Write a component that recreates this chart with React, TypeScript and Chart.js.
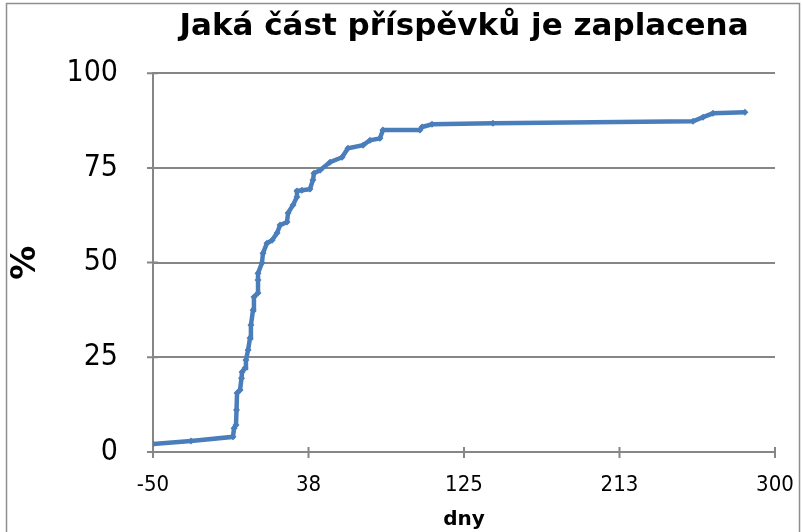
import React, { useEffect, useRef } from "react";
import { Chart, registerables } from "chart.js";

Chart.register(...registerables);

const titleText = "Jaká část příspěvků je zaplacena";
const xTitle = "dny";
const yTitle = "%";

// days (x) and paid share in % (y)
const days = [
  -50, -28.6, -5.0, -4.4, -3.3, -3.0, -2.7, -1.0, -0.2, 0.1, 1.8, 2.3, 3.5, 4.6,
  5.1, 6.3, 6.8, 9.1, 9.1, 9.1, 11.3, 11.9, 14.1, 17.0, 19.8, 21.5, 25.4, 26.0,
  28.8, 31.0, 31.0, 33.8, 38.3, 40.0, 40.6, 44.0, 49.6, 56.4, 59.7, 68.2, 72.1,
  77.7, 79.4, 100.2, 101.4, 107.0, 141.3, 253.9, 259.5, 265.1, 283.1,
];
const paid = [
  2.1, 2.9, 4.0, 6.3, 7.1, 11.1, 15.6, 16.4, 19.5, 21.1, 22.2, 24.3, 26.9, 30.1,
  33.5, 37.5, 40.9, 42.0, 45.4, 47.2, 49.9, 52.5, 55.1, 55.9, 57.8, 59.9, 60.7,
  63.1, 65.2, 67.3, 68.9, 69.1, 69.4, 71.8, 73.6, 74.4, 76.5, 77.8, 80.2, 81.0,
  82.3, 82.8, 85.0, 85.0, 85.8, 86.5, 86.8, 87.3, 88.4, 89.4, 89.7,
];

const xTicks = [-50, 37.5, 125, 212.5, 300];
const yTicks = [0, 25, 50, 75, 100];

const FONT_C = "'DejaVu Sans Condensed', 'DejaVu Sans', sans-serif";
const FONT = "'DejaVu Sans', sans-serif";
const GRID = "#868686";
const LINE = "#4A7EBB";

const decorPlugin = {
  id: "decor",
  beforeDraw(chart: any) {
    const ctx = chart.ctx;
    ctx.save();
    ctx.strokeStyle = "#8e8e8e";
    ctx.lineWidth = 1.5;
    ctx.strokeRect(6.5, 3.5, 793, 600);
    ctx.restore();
  },
  beforeDatasetsDraw(chart: any) {
    const ctx = chart.ctx;
    const xs = chart.scales.x;
    const ys = chart.scales.y;
    const area = chart.chartArea;
    ctx.save();
    ctx.strokeStyle = GRID;
    ctx.lineWidth = 2;
    ctx.beginPath();
    yTicks.forEach((v) => {
      const y = ys.getPixelForValue(v);
      ctx.moveTo(area.left - 6, y);
      ctx.lineTo(area.left + 5, y);
    });
    xTicks.forEach((v) => {
      const x = xs.getPixelForValue(v);
      ctx.moveTo(x, area.bottom - 5);
      ctx.lineTo(x, area.bottom + 6);
    });
    ctx.stroke();
    ctx.restore();
  },
};

export default function App() {
  const ref = useRef<HTMLCanvasElement | null>(null);
  useEffect(() => {
    if (!ref.current) return;
    const chart = new Chart(ref.current, {
      type: "scatter",
      data: {
        datasets: [
          {
            data: days.map((d, i) => ({ x: d, y: paid[i] })),
            showLine: true,
            borderColor: LINE,
            backgroundColor: LINE,
            borderWidth: 4.5,
            pointStyle: "rectRot",
            pointRadius: 3.5,
            pointBorderWidth: 0,
            tension: 0,
          },
        ],
      },
      options: {
        responsive: false,
        animation: false,
        layout: { padding: { left: 0, right: 27, top: 0, bottom: 0 } },
        plugins: {
          legend: { display: false },
          tooltip: { enabled: false },
          title: {
            display: true,
            text: titleText,
            fullSize: false,
            color: "#000",
            font: { family: FONT, size: 31, weight: "bold" },
            padding: { top: 8, bottom: 28 },
          },
        },
        scales: {
          x: {
            type: "linear",
            min: -50,
            max: 300,
            afterBuildTicks: (s: any) => {
              s.ticks = xTicks.map((v) => ({ value: v }));
            },
            afterFit: (s: any) => {
              s.height = 80;
              s.paddingLeft = 0;
              s.paddingRight = 0;
            },
            grid: { display: false, drawTicks: false },
            border: { display: true, color: GRID, width: 2 },
            ticks: {
              color: "#000",
              padding: 20,
              maxRotation: 0,
              font: { family: FONT_C, size: 22 },
              callback: (v: any) => String(Math.round(Number(v))),
            },
            title: {
              display: true,
              text: xTitle,
              color: "#000",
              font: { family: FONT, size: 20, weight: "bold" },
              padding: { top: 0, bottom: 0 },
            },
          },
          y: {
            type: "linear",
            min: 0,
            max: 100,
            afterBuildTicks: (s: any) => {
              s.ticks = yTicks.map((v) => ({ value: v }));
            },
            afterFit: (s: any) => {
              s.width = 153;
              s.paddingTop = 0;
              s.paddingBottom = 0;
            },
            grid: { display: true, drawTicks: false, color: GRID, lineWidth: 2 },
            border: { display: true, color: GRID, width: 2 },
            ticks: {
              color: "#000",
              padding: 35,
              font: { family: FONT_C, size: 30 },
            },
            title: {
              display: true,
              text: yTitle,
              color: "#000",
              font: { family: FONT, size: 34, weight: "bold" },
              padding: { top: 6, bottom: 0 },
            },
          },
        },
      },
      plugins: [decorPlugin],
    });
    return () => chart.destroy();
  }, []);
  return (
    <div style={{ position: "absolute", left: 0, top: 0, width: 802, height: 532, background: "#fff" }}>
      <canvas ref={ref} width={802} height={532} style={{ display: "block" }} />
    </div>
  );
}
